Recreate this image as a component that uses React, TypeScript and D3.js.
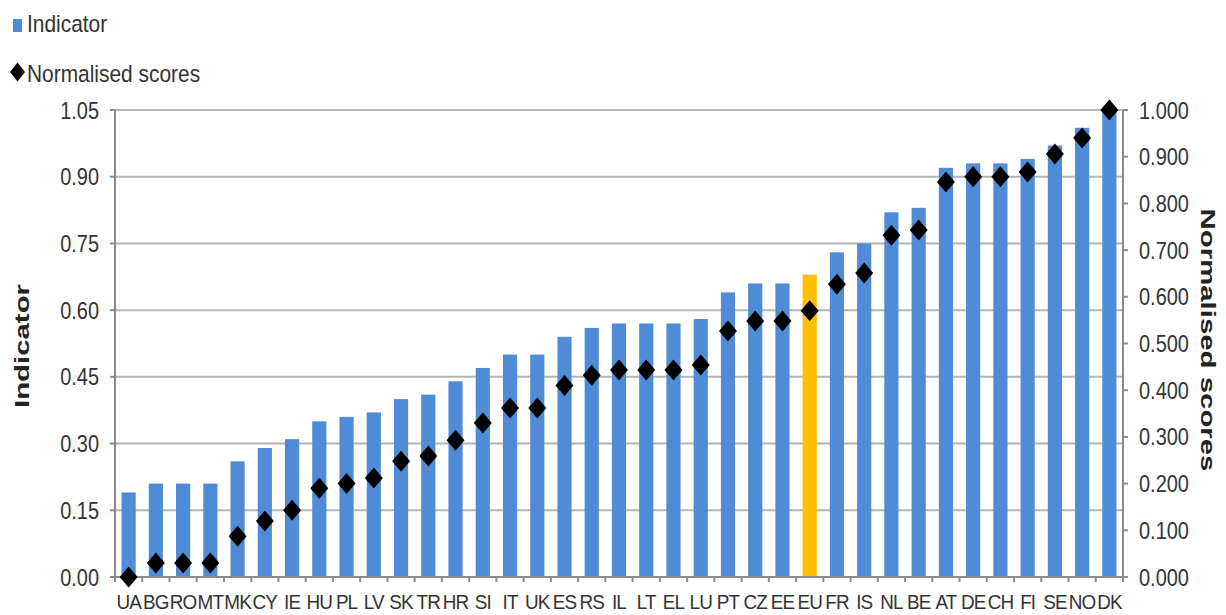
import React from 'react'
import * as d3 from 'd3'

const countries = ['UA', 'BG', 'RO', 'MT', 'MK', 'CY', 'IE', 'HU', 'PL', 'LV', 'SK', 'TR', 'HR', 'SI', 'IT', 'UK', 'ES', 'RS', 'IL', 'LT', 'EL', 'LU', 'PT', 'CZ', 'EE', 'EU', 'FR', 'IS', 'NL', 'BE', 'AT', 'DE', 'CH', 'FI', 'SE', 'NO', 'DK']
const indicator = [0.19, 0.21, 0.21, 0.21, 0.26, 0.29, 0.31, 0.35, 0.36, 0.37, 0.40, 0.41, 0.44, 0.47, 0.50, 0.50, 0.54, 0.56, 0.57, 0.57, 0.57, 0.58, 0.64, 0.66, 0.66, 0.68, 0.73, 0.75, 0.82, 0.83, 0.92, 0.93, 0.93, 0.94, 0.97, 1.01, 1.05]
const scores = [0.0, 0.03, 0.03, 0.03, 0.087, 0.12, 0.143, 0.19, 0.2, 0.212, 0.248, 0.259, 0.293, 0.33, 0.362, 0.362, 0.41, 0.432, 0.443, 0.443, 0.443, 0.454, 0.527, 0.548, 0.548, 0.57, 0.627, 0.651, 0.732, 0.743, 0.846, 0.857, 0.857, 0.867, 0.906, 0.94, 1.0]
const leftTicks = [0, 0.15, 0.3, 0.45, 0.6, 0.75, 0.9, 1.05]
const rightTicks = [0, 0.1, 0.2, 0.3, 0.4, 0.5, 0.6, 0.7, 0.8, 0.9, 1.0]

const W = 1226
const H = 615
const left = 115
const right = 1123
const top = 110
const bottom = 577
const font = '"Liberation Sans", Arial, sans-serif'
const blue = '#4f8bd6'
const gold = '#ffc000'
const axisGrey = '#8a8a8a'
const textCol = '#333'

// image is squashed horizontally, so text gets a horizontal squeeze
const diamond = (rx: number, ry: number) => `M0,${-ry}L${rx},0L0,${ry}L${-rx},0Z`

export default function App() {
  const x = d3.scaleBand<string>().domain(countries).range([left, right]).paddingInner(0.48).paddingOuter(0.24)
  const yL = d3.scaleLinear().domain([0, 1.05]).range([bottom, top])
  const yR = d3.scaleLinear().domain([0, 1.0]).range([bottom, top])
  const step = x.step()
  const cx = (c: string) => x(c)! + x.bandwidth() / 2

  return (
    <svg width={W} height={H} style={{ position: 'absolute', left: 0, top: 0, background: '#fff' }} fontFamily={font}>
      {/* legend */}
      <rect x={13} y={19} width={9} height={13} fill={blue} />
      <text transform="translate(27,32) scale(0.89,1)" fontSize={23.5} fill={textCol}>Indicator</text>
      <path d={diamond(7.5, 9.5)} transform="translate(17.5,72)" fill="#000" />
      <text transform="translate(27,82) scale(0.89,1)" fontSize={23.5} fill={textCol}>Normalised scores</text>

      {/* gridlines */}
      {leftTicks.map(t => (
        <line key={'g' + t} x1={left} x2={right} y1={yL(t)} y2={yL(t)} stroke="#b4b4b4" strokeWidth={2} />
      ))}

      {/* bars */}
      {countries.map((c, i) => (
        <rect key={c} x={x(c)} y={yL(indicator[i])} width={x.bandwidth()} height={bottom - yL(indicator[i])}
          fill={c === 'EU' ? gold : blue} />
      ))}

      {/* axes */}
      <line x1={left} x2={left} y1={top} y2={bottom} stroke={axisGrey} strokeWidth={2} />
      <line x1={right} x2={right} y1={top} y2={bottom} stroke={axisGrey} strokeWidth={2} />
      <line x1={left} x2={right} y1={bottom} y2={bottom} stroke={axisGrey} strokeWidth={2} />
      {leftTicks.map(t => (
        <g key={'l' + t}>
          <line x1={left - 5} x2={left} y1={yL(t)} y2={yL(t)} stroke={axisGrey} strokeWidth={2} />
          <text transform={`translate(99,${yL(t) + 8.5}) scale(0.85,1)`} fontSize={23.5} textAnchor="end"
            fill={textCol}>{t.toFixed(2)}</text>
        </g>
      ))}
      {rightTicks.map(t => (
        <g key={'r' + t}>
          <line x1={right} x2={right + 5} y1={yR(t)} y2={yR(t)} stroke={axisGrey} strokeWidth={2} />
          <text transform={`translate(1139,${yR(t) + 8.5}) scale(0.85,1)`} fontSize={23.5}
            fill={textCol}>{t.toFixed(3)}</text>
        </g>
      ))}
      {countries.map(c => (
        <line key={'t' + c} x1={x(c)! - (step - x.bandwidth()) / 2} x2={x(c)! - (step - x.bandwidth()) / 2}
          y1={bottom} y2={bottom + 5} stroke={axisGrey} strokeWidth={2} />
      ))}
      <line x1={right} x2={right} y1={bottom} y2={bottom + 5} stroke={axisGrey} strokeWidth={2} />
      {countries.map(c => (
        <text key={'x' + c} transform={`translate(${cx(c)},609) scale(0.9,1)`} fontSize={21}
          textAnchor="middle" fill={textCol} letterSpacing={-1}>{c}</text>
      ))}

      {/* diamonds */}
      {countries.map((c, i) => (
        <path key={'d' + c} d={diamond(9, 10.5)} transform={`translate(${cx(c)},${yR(scores[i])})`} fill="#000" />
      ))}

      {/* axis titles */}
      <text transform={`translate(29,346) rotate(-90) scale(1.4,1)`} fontSize={21} fontWeight="bold"
        textAnchor="middle" fill="#222">Indicator</text>
      <text transform={`translate(1201,340) rotate(90) scale(1.4,1)`} fontSize={21} fontWeight="bold"
        textAnchor="middle" fill="#222">Normalised scores</text>
    </svg>
  )
}
